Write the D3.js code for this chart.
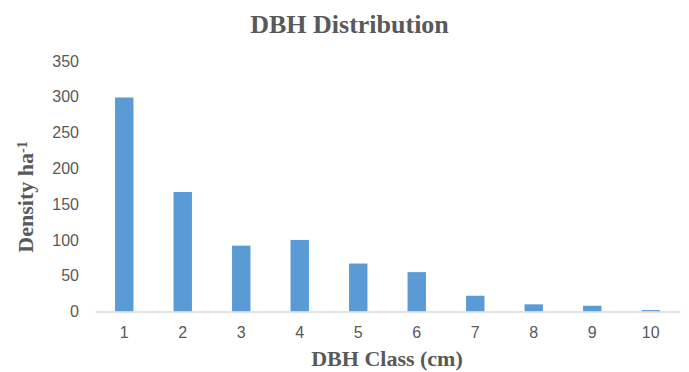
<!DOCTYPE html>
<html>
<head>
<meta charset="utf-8">
<script src="https://cdn.jsdelivr.net/npm/d3@7"></script>
<style>
  html, body { margin: 0; padding: 0; background: #fff; }
  svg { display: block; }
</style>
</head>
<body>
<svg id="chart" width="689" height="372"></svg>
<script>
// DBH class categories and stem density per hectare
const dbhClasses = ["1", "2", "3", "4", "5", "6", "7", "8", "9", "10"];
const densityPerHa = [299, 167, 92, 100, 67, 55, 22, 10, 8, 2];
const yTicks = [0, 50, 100, 150, 200, 250, 300, 350];

const width = 689, height = 372;
const margin = { top: 61, right: 9, bottom: 60.5, left: 95 };

const svg = d3.select("#chart");
const innerW = width - margin.left - margin.right;
const innerH = height - margin.top - margin.bottom;

const x = d3.scaleBand()
  .domain(dbhClasses)
  .range([margin.left, margin.left + innerW])
  .paddingInner(0.685)
  .paddingOuter(0.3425);

const y = d3.scaleLinear()
  .domain([0, 350])
  .range([margin.top + innerH, margin.top]);

const textColor = "#595959";
const tickFont = "'Liberation Sans', Arial, sans-serif";
const titleFont = "'Liberation Serif', 'Times New Roman', serif";

// Bars
svg.append("g")
  .selectAll("rect")
  .data(dbhClasses.map((c, i) => ({ c, v: densityPerHa[i] })))
  .join("rect")
  .attr("x", d => x(d.c))
  .attr("y", d => y(d.v))
  .attr("width", x.bandwidth())
  .attr("height", d => y(0) - y(d.v))
  .attr("fill", "#5B9BD5");

// X axis
const xAxis = svg.append("g")
  .attr("transform", `translate(0,${y(0)})`)
  .call(d3.axisBottom(x).tickSize(0).tickPadding(15));
xAxis.select(".domain").attr("stroke", "#D9D9D9").attr("stroke-width", 1.3);
xAxis.selectAll("text")
  .attr("fill", textColor)
  .style("font-family", tickFont)
  .style("font-size", "16px");

// Y axis (labels only)
const yAxis = svg.append("g")
  .attr("transform", `translate(${margin.left},0)`)
  .call(d3.axisLeft(y).tickValues(yTicks).tickSize(0).tickPadding(16));
yAxis.select(".domain").remove();
yAxis.selectAll("text")
  .attr("fill", textColor)
  .style("font-family", tickFont)
  .style("font-size", "16px");

// Title
svg.append("text")
  .attr("x", 349.5)
  .attr("y", 33)
  .attr("text-anchor", "middle")
  .attr("fill", textColor)
  .style("font-family", titleFont)
  .style("font-weight", "bold")
  .style("font-size", "26px")
  .text("DBH Distribution");

// X axis title
svg.append("text")
  .attr("x", 387)
  .attr("y", 366)
  .attr("text-anchor", "middle")
  .attr("fill", textColor)
  .style("font-family", titleFont)
  .style("font-weight", "bold")
  .style("font-size", "22px")
  .text("DBH Class (cm)");

// Y axis title with superscript
const yTitle = svg.append("text")
  .attr("transform", "translate(33,197) rotate(-90)")
  .attr("text-anchor", "middle")
  .attr("fill", textColor)
  .style("font-family", titleFont)
  .style("font-weight", "bold")
  .style("font-size", "22px");
yTitle.append("tspan").text("Density ha");
yTitle.append("tspan")
  .attr("dy", "-0.45em")
  .style("font-size", "14px")
  .text("-1");
</script>
</body>
</html>
